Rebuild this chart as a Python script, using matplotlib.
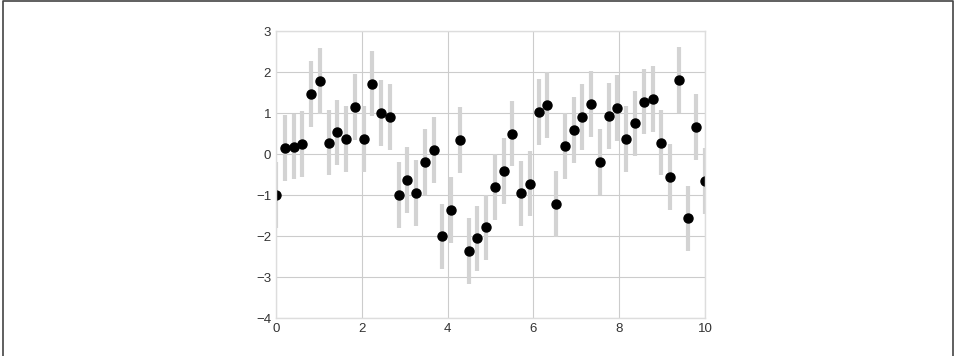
import numpy as np
import matplotlib.pyplot as plt
from matplotlib.lines import Line2D

plt.style.use('seaborn-v0_8-whitegrid')
plt.rcParams['font.family'] = ['Liberation Sans', 'DejaVu Sans']

# 50 evenly spaced points
x = np.linspace(0, 10, 50)
y = [-1.0, 0.15, 0.18, 0.25, 1.47, 1.78, 0.28, 0.53, 0.37, 1.15,
     0.37, 1.72, 1.0, 0.91, -1.0, -0.63, -0.95, -0.19, 0.1, -2.01,
     -1.37, 0.34, -2.36, -2.06, -1.79, -0.81, -0.41, 0.5, -0.96, -0.72,
     1.02, 1.19, -1.22, 0.19, 0.59, 0.91, 1.22, -0.19, 0.93, 1.13,
     0.37, 0.75, 1.28, 1.34, 0.28, -0.56, 1.81, -1.57, 0.66, -0.66]
dy = 0.8

fig = plt.figure(figsize=(9.56, 3.56), dpi=100)
ax = fig.add_axes([0.2887, 0.1067, 0.4488, 0.806])
ax.errorbar(x, y, yerr=dy, fmt='o', color='black', ecolor='lightgray',
            elinewidth=3, capsize=0, markersize=6.5)
ax.set_xlim(0, 10)
ax.set_ylim(-4, 3)
ax.set_xticks([0, 2, 4, 6, 8, 10])
ax.set_yticks(range(-4, 4))
ax.tick_params(labelsize=9.5, colors='#333333')
for s in ax.spines.values():
    s.set_visible(True)
    s.set_color('#dddddd')

# frame round the picture (left, top, right)
fx = [0.003, 0.003, 0.997, 0.997]
fy = [0.0, 0.996, 0.996, 0.0]
fig.add_artist(Line2D(fx, fy, transform=fig.transFigure, color='#444444', lw=1.2))

fig.savefig('out.png', dpi=100)
